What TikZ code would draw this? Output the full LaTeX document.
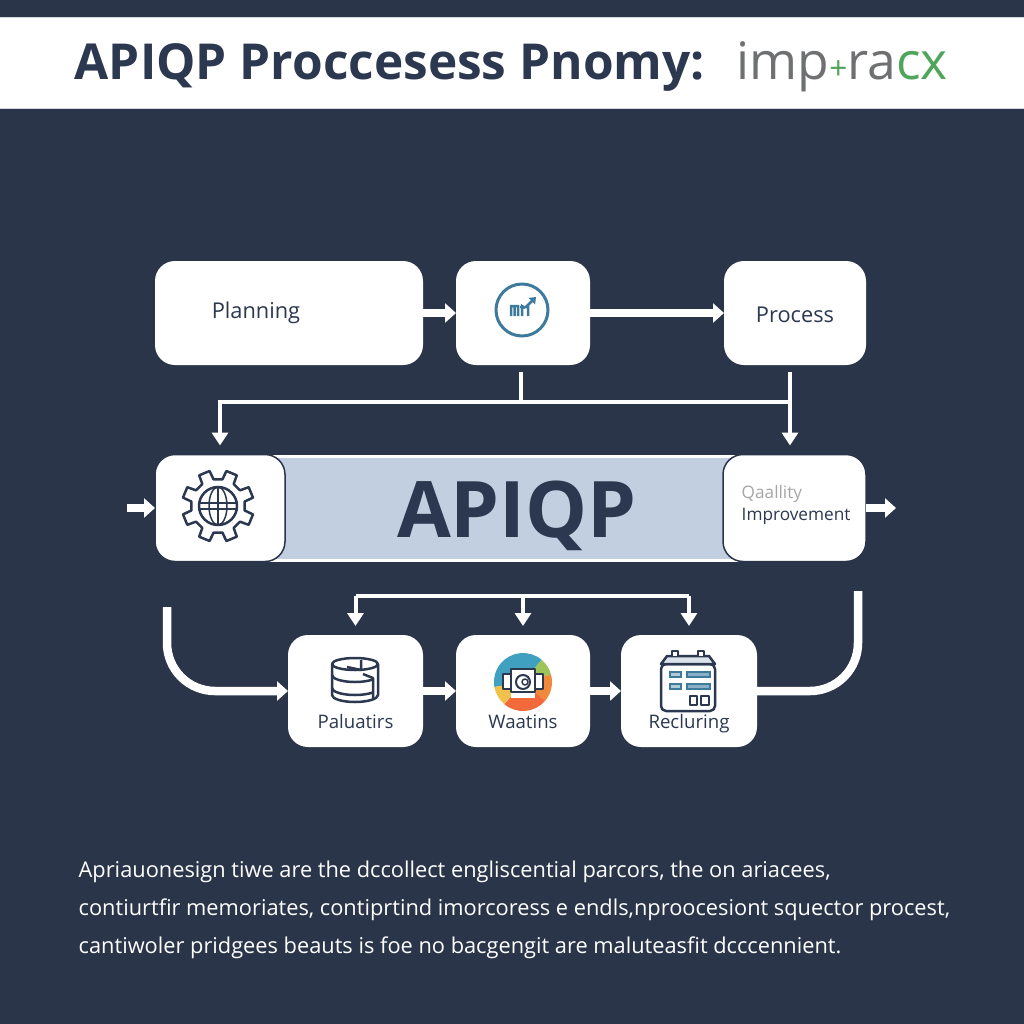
\documentclass[tikz,border=0pt]{standalone}
\usepackage{fontspec}
\setmainfont{Open Sans}
\usepackage{xcolor}
\usetikzlibrary{positioning, arrows.meta}

\definecolor{navy}{HTML}{2A3549}
\definecolor{inkdark}{HTML}{2B3850}
\definecolor{bandblue}{HTML}{C2CFE0}
\definecolor{iconblue}{HTML}{3D7A9C}
\definecolor{impgray}{HTML}{6E7072}
\definecolor{impgreen}{HTML}{4FA65B}

\begin{document}
\begin{tikzpicture}[
        box/.style={fill=white, rounded corners=0.2cm, inner sep=0pt, outer sep=0pt},
        boxline/.style={box, draw=navy, line width=0.015cm},
        boxtext/.style={text=inkdark, inner sep=0pt, font=\fontsize{6.2}{8}\selectfont},
        smalltext/.style={text=inkdark, inner sep=0pt, anchor=base, font=\fontsize{5.3}{6}\selectfont},
        flow/.style={draw=white, line width=0.085cm, -{Triangle[length=0.11cm, width=0.19cm]}},
        link/.style={draw=white, line width=0.04cm},
        drop/.style={link, -{Triangle[length=0.13cm, width=0.16cm]}, shorten >=0.09cm},
        icon/.style={draw=inkdark, line width=0.025cm, line join=round}
    ]

    % Background and title
    \fill[navy] (0,0) rectangle (10.24,-10.24);
    \useasboundingbox (0,0) rectangle (10.24,-10.24);
    \node[fill=white, draw=white!80!navy, line width=0.01cm, minimum width=10.3cm, minimum height=0.91cm, inner sep=0pt] (titleband) at (5.12,-0.625) {};
    \node[anchor=base west, inner sep=0pt, text=inkdark, font=\fontsize{14.1}{16}\selectfont\bfseries] (title) at (0.74,-0.795) {APIQP Proccesess Pnomy:};
    \node[anchor=base west, inner sep=0pt, font=\fontsize{14.7}{16}\selectfont] (brand) at (7.36,-0.795) {\textcolor{impgray}{imp}\textcolor{impgreen}{\fontsize{9}{10}\selectfont+}\textcolor{impgray}{ra}\textcolor{impgreen}{cx}};

    % Top row
    \node[box, minimum width=2.68cm, minimum height=1.04cm] (planning) at (2.89,-3.13) {};
    \node[box, right=0.33cm of planning, minimum width=1.34cm, minimum height=1.04cm] (chart) {};
    \node[box, right=1.34cm of chart, minimum width=1.42cm, minimum height=1.04cm] (process) {};
    \node[boxtext] (planninglabel) at ([xshift=-0.33cm]planning.center) {Planning};
    \node[boxtext] (processlabel) at ([yshift=-0.02cm]process.center) {Process};

    % Middle row
    \node[fill=bandblue, draw=white, line width=0.03cm, minimum width=4.7cm, minimum height=1.04cm, inner sep=0pt, outer sep=0pt] (band) at (5.05,-5.08) {};
    \node[anchor=base, inner sep=0pt, text=inkdark, font=\fontsize{22.2}{24}\selectfont\bfseries] (bandlabel) at (5.17,-5.37) {APIQP};
    \node[boxline, left=-0.15cm of band, minimum width=1.3cm, minimum height=1.07cm] (gear) {};
    \node[boxline, right=-0.17cm of band, minimum width=1.43cm, minimum height=1.07cm] (quality) {};
    \node[boxtext, align=left, anchor=west, font=\fontsize{4.9}{6.3}\selectfont] (qualitylabel) at (7.41,-5.05) {\textcolor{gray!70}{Qaallity}\\Improvement};

    % Bottom row
    \node[box, below=2.70cm of chart, minimum width=1.34cm, minimum height=1.12cm] (waatins) {};
    \node[box, left=0.33cm of waatins, minimum width=1.35cm, minimum height=1.12cm] (paluatirs) {};
    \node[box, right=0.31cm of waatins, minimum width=1.36cm, minimum height=1.12cm] (recluring) {};
    \node[smalltext] (paluatirslabel) at ([yshift=-0.37cm]paluatirs.center) {Paluatirs};
    \node[smalltext] (waatinslabel) at ([yshift=-0.37cm]waatins.center) {Waatins};
    \node[smalltext] (recluringlabel) at ([yshift=-0.37cm]recluring.center) {Recluring};

    % Note
    \node[anchor=north west, align=left, inner sep=0pt, text=white, font=\fontsize{6.2}{10.8}\selectfont] (note) at (0.78,-8.6) {Apriauonesign tiwe are the dccollect engliscential parcors, the on ariacees,\\contiurtfir memoriates, contiprtind imorcoress e endls,nproocesiont squector procest,\\cantiwoler pridgees beauts is foe no bacgengit are maluteasfit dcccennient.};

    % Arrows, top row
    \draw[flow] (planning) -- (chart);
    \draw[flow] (chart) -- (process);

    % Branch to gear and quality
    \coordinate (stemtop) at ([xshift=-0.02cm, yshift=-0.07cm]chart.south);
    \coordinate (stembase) at ([yshift=-0.30cm]stemtop);
    \coordinate (dropright) at ([xshift=-0.05cm, yshift=-0.07cm]process.south);
    \draw[link] (stemtop) -- (stembase);
    \draw[drop] (stembase) -| (gear.north);
    \draw[link] (stembase) -- (stembase -| dropright);
    \draw[drop] (dropright) -- (dropright |- quality.north);

    % Arrows, middle row
    \coordinate (feedin) at (1.27,-5.08);
    \coordinate (feedout) at (8.96,-5.08);
    \draw[flow] (feedin) -- (gear.west);
    \draw[flow] (quality.east) -- (feedout);

    % Arrows, bottom row
    \coordinate (bar) at ([yshift=0.39cm]waatins.north);
    \draw[link] (bar -| paluatirs) -- (bar -| recluring);
    \draw[drop] (bar -| paluatirs) -- (paluatirs.north);
    \draw[drop] (bar) -- (waatins.north);
    \draw[drop] (bar -| recluring) -- (recluring.north);
    \draw[flow] (paluatirs) -- (waatins);
    \draw[flow] (waatins) -- (recluring);

    % Curved returns
    \coordinate (returnleft) at (1.67,-6.07);
    \coordinate (returnright) at (8.58,-5.91);
    \draw[flow, rounded corners=0.48cm] (returnleft) |- (paluatirs.west);
    \draw[draw=white, line width=0.085cm, rounded corners=0.48cm] (recluring.east) -| (returnright);

    % Chart icon
    \begin{scope}[shift={(5.22,-3.10)}]
        \draw[iconblue, line width=0.03cm] (0,0) circle (0.26);
        \draw[iconblue, line width=0.025cm] (-0.11,-0.06) -- (-0.11,0.04) -- (-0.04,0.04) -- (-0.04,-0.06) (-0.075,-0.06) -- (-0.075,0.04) (0,-0.06) -- (0,0.04) -- (0.03,0.02) (0.06,-0.06) -- (0.06,0.04);
        \draw[iconblue, line width=0.025cm, -{Triangle[length=0.06cm, width=0.09cm]}] (-0.02,0.03) -- (0.04,0.03) -- (0.14,0.13);
    \end{scope}

    % Gear icon
    \begin{scope}[shift={(2.18,-5.06)}]
        \draw[icon] (9.5:0.27) \foreach \a in {22.5,67.5,...,337.5} {-- (\a-13:0.27) -- (\a-9:0.36) -- (\a+9:0.36) -- (\a+13:0.27)} -- cycle;
        \draw[icon] (0,0) circle (0.19);
        \draw[icon] (-0.19,0.03) -- (0.19,0.03) (-0.19,-0.03) -- (0.19,-0.03);
        \draw[icon, line width=0.015cm] (0,0) ellipse (0.09 and 0.19);
        \draw[icon, line width=0.015cm] (0,-0.19) -- (0,0.19);
    \end{scope}

    % Database icon
    \begin{scope}[shift={(3.55,-6.80)}]
        \draw[icon] (-0.23,0.16) -- (-0.23,-0.15) arc[start angle=180, end angle=360, x radius=0.23, y radius=0.07] -- (0.23,0.16);
        \draw[icon] (0,0.16) ellipse (0.23 and 0.06);
        \draw[icon] (-0.23,0.05) arc[start angle=180, end angle=320, x radius=0.23, y radius=0.07];
        \draw[icon] (-0.23,-0.08) arc[start angle=180, end angle=320, x radius=0.23, y radius=0.07];
        \draw[icon] (0.06,0.2) -- (0.06,0.1) -- (-0.08,0.13);
        \draw[icon] (0.08,0.06) -- (0.18,0.02) -- (0.18,-0.2);
    \end{scope}

    % Colour wheel icon
    \begin{scope}[shift={(5.23,-6.82)}]
        \foreach \wedge/\from/\to in {3FA0C0/50/190, 9EC45A/15/50, F08A3A/-40/15, F26A3C/-130/-40, F1C24B/190/230} {
            \definecolor{wedgecolor}{HTML}{\wedge}
            \fill[wedgecolor] (0,0) -- (\from:0.29) arc[start angle=\from, end angle=\to, radius=0.29] -- cycle;
        }
        \fill[white] (-0.12,-0.16) rectangle (0.12,0.12);
        \draw[icon, fill=white, line width=0.02cm] (-0.2,-0.07) rectangle (0.2,0.08);
        \draw[icon, fill=white, line width=0.02cm] (-0.12,-0.1) rectangle (0.12,0.13);
        \draw[icon, line width=0.02cm] (0,0) circle (0.07);
        \draw[icon, line width=0.015cm] (0.02,0) circle (0.03);
    \end{scope}

    % Calendar icon
    \begin{scope}[shift={(6.88,-6.82)}]
        \draw[icon, fill=white, rounded corners=0.05cm] (-0.27,0.18) -- (-0.27,-0.29) -- (0.27,-0.29) -- (0.27,0.18) -- cycle;
        \draw[icon, fill=bandblue!60] (-0.27,0.18) -- (-0.21,0.26) -- (0.21,0.26) -- (0.27,0.18) -- cycle;
        \draw[icon, fill=white] (-0.16,0.26) -- (-0.16,0.31) -- (-0.1,0.31) -- (-0.1,0.26);
        \draw[icon, fill=white] (0.1,0.26) -- (0.1,0.31) -- (0.16,0.31) -- (0.16,0.26);
        \foreach \y in {0.05,-0.07} {
            \draw[iconblue, fill=iconblue!40, line width=0.012cm] (-0.18,\y) rectangle (-0.07,\y+0.05);
            \draw[iconblue, fill=iconblue!60, line width=0.012cm] (-0.01,\y) rectangle (0.22,\y+0.05);
        }
        \draw[icon, line width=0.02cm] (0.02,-0.23) rectangle (0.09,-0.14);
        \draw[icon, line width=0.02cm] (0.13,-0.23) rectangle (0.21,-0.14);
    \end{scope}

\end{tikzpicture}
\end{document}
